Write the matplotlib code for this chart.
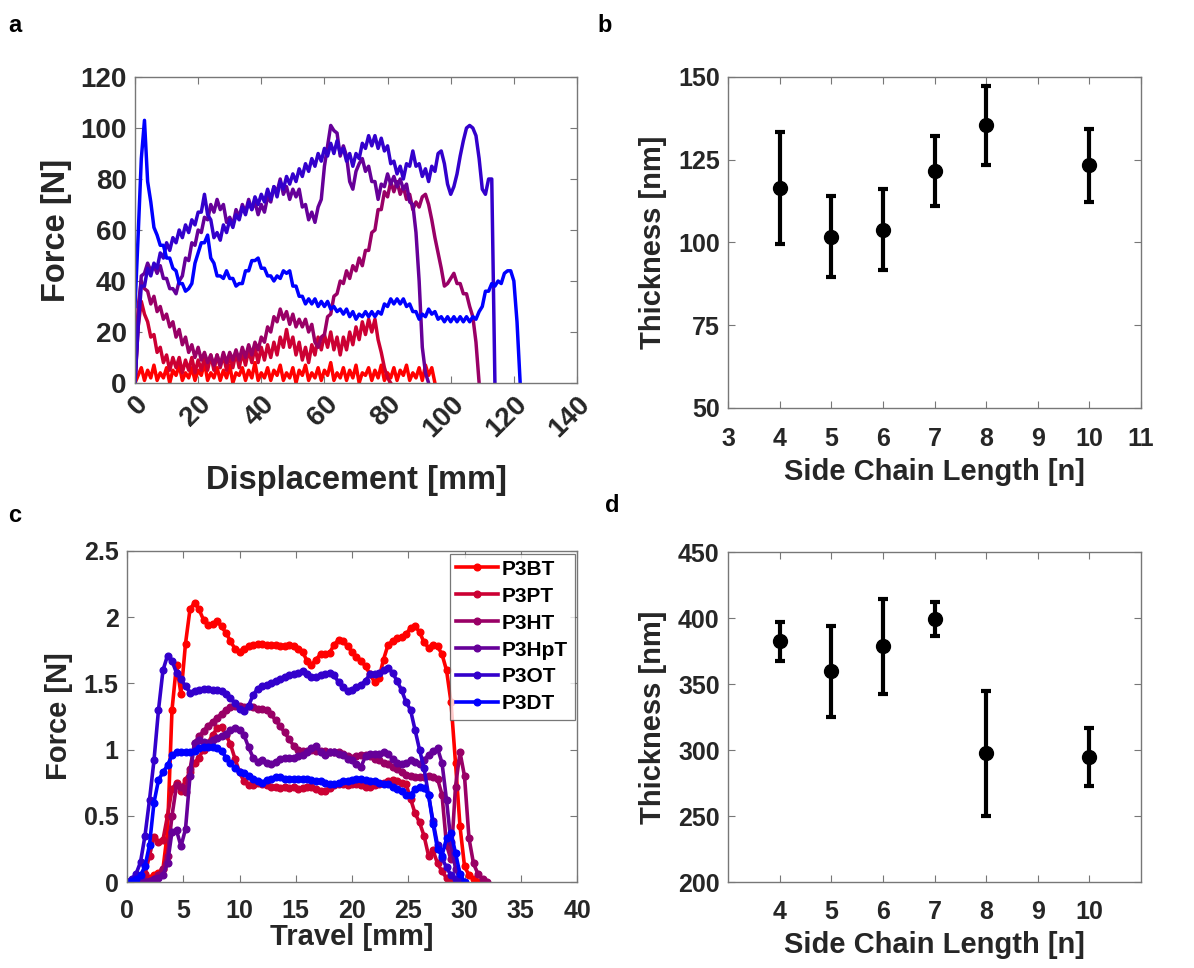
import numpy as np
import matplotlib
matplotlib.use("Agg")
import matplotlib.pyplot as plt

plt.rcParams['font.family'] = ['Liberation Sans', 'DejaVu Sans']
plt.rcParams['font.weight'] = 'bold'
plt.rcParams['axes.labelweight'] = 'bold'

# ---------------- data ----------------
polymers = ["P3BT", "P3PT", "P3HT", "P3HpT", "P3OT", "P3DT"]
colors = ["#ff0000", "#cc0033", "#990066", "#660099", "#3300cc", "#0000ff"]

# (a) force vs displacement, one sample per mm
displacement = [0, 1, 2, 3, 4, 5, 6, 7, 8, 9, 10, 11, 12, 13, 14, 15, 16, 17, 18, 19,
                20, 21, 22, 23, 24, 25, 26, 27, 28, 29, 30, 31, 32, 33, 34, 35, 36, 37, 38, 39,
                40, 41, 42, 43, 44, 45, 46, 47, 48, 49, 50, 51, 52, 53, 54, 55, 56, 57, 58, 59,
                60, 61, 62, 63, 64, 65, 66, 67, 68, 69, 70, 71, 72, 73, 74, 75, 76, 77, 78, 79,
                80, 81, 82, 83, 84, 85, 86, 87, 88, 89, 90, 91, 92, 93, 94, 95, 96, 97, 98, 99,
                100, 101, 102, 103, 104, 105, 106, 107, 108, 109, 110, 111, 112, 113, 114, 115,
                116, 117, 118, 119, 120, 121, 122, 123]

force_p3bt = [0, 3, 6, 1, 5, 2, 7, 1, 4, 2, 6, 0, 5, 3, 7, 1, 4, 2, 6, 1,
              5, 3, 8, 1, 4, 2, 6, 1, 5, 2, 7, 0, 4, 3, 6, 1, 5, 2, 8, 1,
              4, 2, 6, 1, 5, 3, 7, 1, 4, 2, 6, 0, 5, 3, 7, 1, 4, 2, 6, 1,
              5, 3, 8, 1, 4, 2, 6, 1, 5, 2, 7, 0, 4, 3, 6, 1, 5, 2, 7, 1,
              4, 2, 6, 1, 5, 3, 7, 1, 4, 2, 6, 1, 7, 3, 6, 0]
force_p3pt = [0, 22, 32, 27, 24, 18, 19, 12, 14, 8, 11, 5, 10, 6, 10, 4, 9, 5, 10, 4,
              9, 5, 10, 5, 11, 5, 11, 6, 11, 5, 11, 6, 12, 6, 12, 7, 13, 8, 14, 8,
              14, 9, 15, 10, 16, 11, 18, 14, 21, 14, 18, 11, 16, 9, 14, 8, 15, 11, 18, 13,
              19, 14, 20, 13, 18, 11, 18, 13, 20, 15, 22, 17, 24, 19, 25, 20, 25, 17, 12, 6,
              2, 0]
force_p3ht = [0, 30, 40, 37, 36, 31, 34, 28, 30, 25, 27, 22, 24, 18, 21, 15, 18, 12, 15, 10,
              14, 9, 12, 8, 11, 7, 11, 7, 12, 8, 12, 9, 13, 9, 14, 10, 15, 11, 16, 13,
              18, 16, 22, 20, 26, 24, 29, 25, 28, 23, 27, 22, 25, 22, 25, 20, 23, 16, 14, 18,
              19, 26, 27, 34, 35, 40, 39, 44, 41, 46, 44, 49, 46, 52, 52, 59, 60, 68, 68, 75,
              73, 79, 75, 79, 74, 77, 72, 74, 68, 71, 69, 73, 74, 70, 64, 57, 51, 45, 38, 39,
              41, 43, 39, 39, 35, 35, 30, 26, 16, 0]
force_p3hpt = [0, 25, 42, 43, 47, 44, 46, 43, 46, 41, 41, 37, 37, 35, 40, 42, 49, 48, 55, 54,
               60, 59, 65, 64, 70, 67, 72, 68, 70, 63, 65, 62, 68, 65, 70, 67, 72, 68, 71, 66,
               70, 67, 73, 71, 77, 75, 80, 74, 77, 72, 76, 73, 76, 69, 70, 64, 67, 63, 69, 72,
               85, 93, 101, 99, 98, 89, 93, 89, 79, 76, 83, 86, 88, 83, 85, 79, 79, 72, 78, 77,
               82, 78, 81, 77, 80, 76, 78, 71, 70, 59, 40, 14, 4, 0]
force_p3ot = [0, 22, 38, 38, 45, 42, 47, 45, 51, 49, 55, 52, 57, 55, 60, 57, 62, 59, 64, 62,
              67, 67, 74, 66, 64, 57, 59, 56, 62, 59, 64, 61, 66, 64, 69, 66, 71, 68, 73, 70,
              74, 71, 76, 72, 77, 73, 79, 76, 81, 78, 82, 79, 84, 81, 86, 83, 88, 85, 90, 87,
              92, 89, 94, 90, 95, 90, 92, 87, 90, 85, 90, 88, 94, 92, 97, 93, 97, 92, 96, 91,
              93, 86, 87, 82, 85, 80, 86, 85, 91, 85, 86, 81, 84, 79, 85, 83, 90, 91, 86, 78,
              74, 77, 82, 89, 95, 100, 101, 100, 97, 88, 76, 74, 80, 80, 0]
force_p3dt = [30, 58, 88, 103, 79, 71, 61, 58, 54, 54, 49, 49, 45, 44, 39, 39, 36, 37, 39, 47,
              51, 55, 55, 58, 49, 47, 42, 42, 41, 44, 41, 41, 38, 39, 39, 44, 44, 48, 48, 49,
              45, 45, 42, 42, 40, 42, 41, 44, 43, 44, 38, 38, 34, 34, 31, 33, 31, 33, 30, 32,
              30, 32, 29, 30, 28, 29, 27, 29, 26, 28, 25, 27, 26, 28, 26, 28, 26, 28, 27, 31,
              30, 33, 31, 33, 31, 33, 30, 31, 28, 28, 25, 27, 26, 29, 27, 28, 25, 26, 24, 26,
              24, 26, 24, 26, 24, 26, 24, 26, 25, 28, 30, 36, 36, 39, 38, 40, 39, 43, 44, 44,
              40, 24, 0]
force_curves = [force_p3bt, force_p3pt, force_p3ht, force_p3hpt, force_p3ot, force_p3dt]

# (b) thin-film thickness vs side chain length
chain_b = [4, 5, 6, 7, 8, 10]
thick_b = [116.5, 101.8, 103.9, 121.6, 135.4, 123.3]
thick_b_err = [17.0, 12.3, 12.3, 10.6, 12.0, 11.0]

# (c) force vs travel, one sample per 0.4 mm
travel = [0.0, 0.4, 0.8, 1.2, 1.6, 2.0, 2.4, 2.8, 3.2, 3.6, 4.0, 4.4, 4.8, 5.2, 5.6, 6.0,
          6.4, 6.8, 7.2, 7.6, 8.0, 8.4, 8.8, 9.2, 9.6, 10.0, 10.4, 10.8, 11.2, 11.6, 12.0,
          12.4, 12.8, 13.2, 13.6, 14.0, 14.4, 14.8, 15.2, 15.6, 16.0, 16.4, 16.8, 17.2, 17.6,
          18.0, 18.4, 18.8, 19.2, 19.6, 20.0, 20.4, 20.8, 21.2, 21.6, 22.0, 22.4, 22.8, 23.2,
          23.6, 24.0, 24.4, 24.8, 25.2, 25.6, 26.0, 26.4, 26.8, 27.2, 27.6, 28.0, 28.4, 28.8,
          29.2, 29.6, 30.0, 30.4, 30.8, 31.2, 31.6, 32.0]

peel_p3bt = [0.0, 0.0, 0.01, 0.01, 0.02, 0.03, 0.05, 0.07, 0.10, 0.38, 1.30, 1.64, 1.42, 1.80, 2.06, 2.11,
             2.06, 1.98, 1.94, 1.95, 1.97, 1.93, 1.88, 1.82, 1.76, 1.74, 1.76, 1.78, 1.79, 1.80, 1.80,
             1.79, 1.79, 1.79, 1.78, 1.78, 1.79, 1.78, 1.76, 1.74, 1.67, 1.64, 1.68, 1.72, 1.72,
             1.73, 1.79, 1.83, 1.82, 1.78, 1.74, 1.70, 1.67, 1.63, 1.57, 1.51, 1.54, 1.68, 1.79,
             1.82, 1.84, 1.85, 1.87, 1.92, 1.93, 1.89, 1.81, 1.77, 1.79, 1.78, 1.72, 1.60, 1.36,
             0.90, 0.42, 0.12, 0.05, 0.02, 0.0]
peel_p3pt = [0.0, 0.0, 0.01, 0.02, 0.06, 0.20, 0.34, 0.30, 0.32, 0.50, 0.70, 0.75, 0.69, 0.77, 0.83, 0.90,
             0.94, 1.00, 1.05, 1.11, 1.16, 1.17, 1.11, 1.04, 0.93, 0.83, 0.76, 0.73, 0.73, 0.75, 0.74,
             0.73, 0.72, 0.72, 0.71, 0.72, 0.71, 0.72, 0.70, 0.71, 0.72, 0.72, 0.70, 0.69, 0.69,
             0.71, 0.73, 0.74, 0.74, 0.73, 0.74, 0.74, 0.73, 0.72, 0.72, 0.73, 0.74, 0.75, 0.76,
             0.77, 0.76, 0.75, 0.74, 0.63, 0.52, 0.45, 0.35, 0.20, 0.24, 0.14, 0.08, 0.03, 0.0]
peel_p3ht = [0.0, 0.0, 0.0, 0.0, 0.01, 0.01, 0.02, 0.05, 0.10, 0.20, 0.50, 0.73, 0.72, 0.68, 0.85, 1.05,
             1.10, 1.14, 1.18, 1.21, 1.24, 1.27, 1.30, 1.32, 1.33, 1.33, 1.32, 1.33, 1.32, 1.31, 1.31,
             1.30, 1.27, 1.22, 1.18, 1.13, 1.08, 1.03, 1.00, 0.99, 0.99, 1.00, 0.99, 0.99, 0.99,
             0.98, 0.98, 0.98, 0.97, 0.95, 0.94, 0.95, 0.96, 0.96, 0.95, 0.93, 0.92, 0.90, 0.89,
             0.87, 0.85, 0.83, 0.81, 0.80, 0.79, 0.79, 0.79, 0.80, 0.79, 0.78, 0.66, 0.28, 0.17,
             0.72, 0.98, 0.80, 0.33, 0.14, 0.06, 0.02, 0.0]
peel_p3hpt = [0.0, 0.0, 0.0, 0.0, 0.0, 0.01, 0.02, 0.03, 0.05, 0.14, 0.38, 0.39, 0.27, 0.40, 0.80, 1.05,
              1.07, 1.06, 1.05, 1.07, 1.09, 1.10, 1.12, 1.15, 1.16, 1.15, 1.11, 1.02, 0.94, 0.91, 0.92,
              0.90, 0.89, 0.91, 0.93, 0.94, 0.94, 0.94, 0.95, 0.96, 0.98, 1.01, 1.03, 0.98, 0.96,
              0.98, 0.98, 0.97, 0.96, 0.93, 0.92, 0.89, 0.87, 0.95, 0.97, 0.97, 0.97, 0.98, 0.97,
              0.93, 0.90, 0.89, 0.90, 0.92, 0.91, 0.89, 0.92, 0.96, 0.99, 1.01, 0.90, 0.62, 0.30,
              0.10, 0.02]
peel_p3ot = [0.0, 0.02, 0.06, 0.15, 0.35, 0.62, 0.92, 1.30, 1.60, 1.71, 1.67, 1.58, 1.53, 1.48, 1.43, 1.44,
             1.45, 1.46, 1.46, 1.45, 1.45, 1.44, 1.42, 1.39, 1.35, 1.31, 1.29, 1.33, 1.41, 1.46, 1.48,
             1.49, 1.50, 1.52, 1.53, 1.55, 1.56, 1.57, 1.58, 1.59, 1.57, 1.55, 1.55, 1.56, 1.57,
             1.58, 1.56, 1.51, 1.47, 1.44, 1.45, 1.47, 1.49, 1.52, 1.57, 1.57, 1.58, 1.60, 1.62,
             1.58, 1.52, 1.45, 1.36, 1.30, 1.15, 1.00, 0.86, 0.66, 0.46, 0.28, 0.18, 0.11, 0.05,
             0.02, 0.0]
peel_p3dt = [0.0, 0.01, 0.02, 0.05, 0.12, 0.28, 0.60, 0.77, 0.83, 0.88, 0.96, 0.98, 0.98, 0.98, 0.98, 0.99,
             1.01, 1.02, 1.02, 1.02, 1.01, 0.99, 0.94, 0.90, 0.86, 0.83, 0.82, 0.80, 0.78, 0.76, 0.75,
             0.77, 0.78, 0.79, 0.79, 0.78, 0.78, 0.78, 0.78, 0.78, 0.78, 0.77, 0.76, 0.76, 0.75,
             0.74, 0.74, 0.75, 0.76, 0.76, 0.77, 0.78, 0.78, 0.77, 0.76, 0.76, 0.75, 0.74, 0.74,
             0.72, 0.70, 0.69, 0.66, 0.66, 0.70, 0.72, 0.71, 0.66, 0.44, 0.25, 0.20, 0.33, 0.37,
             0.22, 0.06, 0.0]
peel_curves = [peel_p3bt, peel_p3pt, peel_p3ht, peel_p3hpt, peel_p3ot, peel_p3dt]

# (d) thick-film thickness vs side chain length
chain_d = [4, 5, 6, 7, 8, 10]
thick_d = [382.3, 359.6, 378.5, 399.2, 297.5, 294.6]
thick_d_err = [14.5, 34.3, 36.0, 12.8, 47.4, 21.9]

# ---------------- styling ----------------
TICK_FS = 18
LABEL_FS = 21
SPINE = "#777777"
TXT = "#262626"


def matlab_axes(ax, tick_fs=TICK_FS, xpad=6):
    for s in ax.spines.values():
        s.set_color(SPINE)
        s.set_linewidth(1.0)
    ax.tick_params(direction="in", top=True, right=True, length=5, width=0.8,
                   color=SPINE, labelsize=tick_fs, labelcolor=TXT)
    ax.tick_params(axis="y", pad=6)
    ax.tick_params(axis="x", pad=xpad)
    for lbl in ax.get_xticklabels() + ax.get_yticklabels():
        lbl.set_fontweight("bold")


fig = plt.figure(figsize=(11.94, 9.68), dpi=100)

ax_a = fig.add_axes([135 / 1194, 1 - 383 / 968, 442 / 1194, 306 / 968])
ax_b = fig.add_axes([728 / 1194, 1 - 408 / 968, 413 / 1194, 331 / 968])
ax_c = fig.add_axes([127 / 1194, 1 - 882 / 968, 450 / 1194, 331 / 968])
ax_d = fig.add_axes([728 / 1194, 1 - 882 / 968, 413 / 1194, 330 / 968])

# (a)
for y, c in zip(force_curves, colors):
    ax_a.plot(displacement[:len(y)], y, color=c, lw=2.5)
ax_a.set_xlim(0, 140)
ax_a.set_ylim(0, 120)
ax_a.set_xticks(range(0, 141, 20))
ax_a.set_yticks(range(0, 121, 20))
matlab_axes(ax_a, tick_fs=20, xpad=6)
for lbl in ax_a.get_xticklabels():
    lbl.set_rotation(45)
    lbl.set_ha("right")
    lbl.set_rotation_mode("anchor")
ax_a.set_xlabel("Displacement [mm]", fontsize=23.5, color=TXT, labelpad=16)
ax_a.set_ylabel("Force [N]", fontsize=23.5, color=TXT, labelpad=6)

# (b)
ax_b.errorbar(chain_b, thick_b, yerr=thick_b_err, fmt="o", color="k", ms=10,
              elinewidth=3, capsize=3.5, capthick=3)
ax_b.set_xlim(3, 11)
ax_b.set_ylim(50, 150)
ax_b.set_xticks(range(3, 12))
ax_b.set_yticks([50, 75, 100, 125, 150])
matlab_axes(ax_b, xpad=14)
ax_b.set_xlabel("Side Chain Length [n]", fontsize=LABEL_FS, color=TXT, labelpad=5)
ax_b.set_ylabel("Thickness [nm]", fontsize=LABEL_FS, color=TXT, labelpad=8)

# (c)
for y, c, name in zip(peel_curves, colors, polymers):
    ax_c.plot(travel[:len(y)], y, color=c, lw=2.6, marker="o", ms=4.8, label=name)
ax_c.set_xlim(0, 40)
ax_c.set_ylim(0, 2.5)
ax_c.set_xticks(range(0, 41, 5))
ax_c.set_yticks([0, 0.5, 1, 1.5, 2, 2.5])
ax_c.set_yticklabels(["0", "0.5", "1", "1.5", "2", "2.5"])
matlab_axes(ax_c, xpad=12)
leg = ax_c.legend(loc="upper right", fontsize=15, frameon=True, fancybox=False,
                  edgecolor="#555555", borderpad=0.3, labelspacing=0.38,
                  handlelength=2.0, handletextpad=0.2, borderaxespad=0.12)
leg.get_frame().set_linewidth(0.9)
for t in leg.get_texts():
    t.set_fontweight("bold")
ax_c.set_xlabel("Travel [mm]", fontsize=LABEL_FS, color=TXT, labelpad=0)
ax_c.set_ylabel("Force [N]", fontsize=LABEL_FS, color=TXT, labelpad=8)

# (d)
ax_d.errorbar(chain_d, thick_d, yerr=thick_d_err, fmt="o", color="k", ms=10,
              elinewidth=3, capsize=3.5, capthick=3)
ax_d.set_xlim(3, 11)
ax_d.set_ylim(200, 450)
ax_d.set_xticks(range(4, 11))
ax_d.set_yticks([200, 250, 300, 350, 400, 450])
matlab_axes(ax_d, xpad=13)
ax_d.set_xlabel("Side Chain Length [n]", fontsize=LABEL_FS, color=TXT, labelpad=5)
ax_d.set_ylabel("Thickness [nm]", fontsize=LABEL_FS, color=TXT, labelpad=8)

# panel letters
for txt, x, y in [("a", 8, 32), ("b", 597, 32), ("c", 8, 522), ("d", 605, 512)]:
    fig.text(x / 1194, 1 - y / 968, txt, fontsize=17, fontweight="bold", color="k")

fig.savefig("out.png", dpi=100)
